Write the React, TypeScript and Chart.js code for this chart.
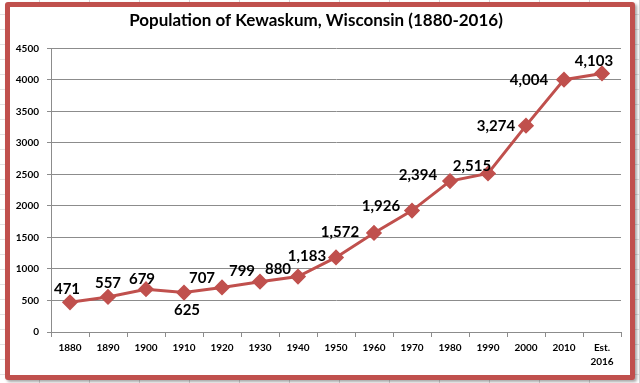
import React, { useEffect, useRef } from 'react';
import { Chart, registerables } from 'chart.js';

Chart.register(...registerables);

const categories: (string | string[])[] = [
  '1880', '1890', '1900', '1910', '1920', '1930', '1940', '1950',
  '1960', '1970', '1980', '1990', '2000', '2010', ['Est.', '2016'],
];
const population = [471, 557, 679, 625, 707, 799, 880, 1183, 1572, 1926, 2394, 2515, 3274, 4004, 4103];
const yMin = 0;
const yMax = 4500;
const yStep = 500;
const titleText = 'Population of Kewaskum, Wisconsin (1880-2016)';

// data-label placement offsets (style only)
const labelDx = [-3, 0, -4, 3, -20, -18, -20, -29, -34, -31, -32, -16, -30, -35, -8];
const labelDy = [-13, -14, -10, 18, -9, -10, -7, -1, -1, -4, -6, -7, 0, 0, -12];

const RED = '#C0504D';
const GRID = '#8c8c8c';
const FONT = 'Lato, "Open Sans", sans-serif';

const dataLabelPlugin = {
  id: 'dataLabels',
  afterDatasetsDraw(chart: any) {
    const meta = chart.getDatasetMeta(0);
    const ctx = chart.ctx;
    ctx.save();
    ctx.font = `bold 15px ${FONT}`;
    ctx.fillStyle = '#000';
    ctx.textAlign = 'center';
    ctx.textBaseline = 'middle';
    meta.data.forEach((pt: any, i: number) => {
      const txt = population[i].toLocaleString('en-US');
      ctx.fillText(txt, pt.x + labelDx[i], pt.y + labelDy[i]);
    });
    ctx.restore();
  },
};

export default function App() {
  const ref = useRef<HTMLCanvasElement | null>(null);

  useEffect(() => {
    document.body.style.margin = '0';
    if (!ref.current) return;
    const chart = new Chart(ref.current, {
      type: 'line',
      data: {
        labels: categories,
        datasets: [
          {
            data: population,
            borderColor: RED,
            backgroundColor: RED,
            borderWidth: 3,
            pointStyle: 'rectRot',
            pointRadius: 6,
            pointHoverRadius: 6,
            pointBackgroundColor: RED,
            pointBorderColor: RED,
            tension: 0,
          },
        ],
      },
      options: {
        responsive: false,
        animation: false,
        layout: { padding: { left: 0, right: 8, top: 0, bottom: 0 } },
        plugins: {
          legend: { display: false },
          tooltip: { enabled: false },
          title: {
            display: true,
            text: titleText,
            color: '#000',
            font: { family: FONT, size: 17, weight: 'bold', lineHeight: 1.2 },
            padding: { top: 3, bottom: 18 },
          },
        },
        scales: {
          x: {
            type: 'category',
            offset: true,
            grid: {
              offset: true,
              drawOnChartArea: false,
              drawTicks: true,
              tickLength: 5,
              color: GRID,
            },
            border: { color: GRID },
            ticks: {
              color: '#000',
              font: { family: FONT, size: 10, weight: 'bold', lineHeight: 1.4 },
              padding: 4,
              maxRotation: 0,
              autoSkip: false,
            },
            afterFit(scale: any) {
              scale.height = 43;
            },
          },
          y: {
            min: yMin,
            max: yMax,
            ticks: {
              stepSize: yStep,
              color: '#000',
              font: { family: FONT, size: 10, weight: 'bold' },
              padding: 8,
              callback: (v: any) => String(v),
            },
            grid: { color: GRID, tickLength: 4 },
            border: { color: GRID },
            afterFit(scale: any) {
              scale.width = 41;
            },
          },
        },
      },
      plugins: [dataLabelPlugin],
    } as any);
    return () => chart.destroy();
  }, []);

  return (
    <div
      style={{
        position: 'fixed',
        left: 0,
        top: 0,
        width: 640,
        height: 383,
        overflow: 'hidden',
        backgroundColor: '#fff',
        backgroundImage:
          'repeating-linear-gradient(to right, transparent 0 39px, #d6d6d6 39px 40px, transparent 40px 50px), repeating-linear-gradient(to bottom, transparent 0 14px, #e2e2e2 14px 15px)',
      }}
    >
      <div
        style={{
          position: 'absolute',
          left: 5,
          top: 2,
          width: 620,
          height: 368,
          border: `5px solid ${RED}`,
          borderRadius: 3,
          background: '#fff',
          boxShadow: '2px 2px 3px rgba(0,0,0,0.35)',
        }}
      >
        <canvas ref={ref} width={620} height={368} style={{ display: 'block' }} />
      </div>
    </div>
  );
}
